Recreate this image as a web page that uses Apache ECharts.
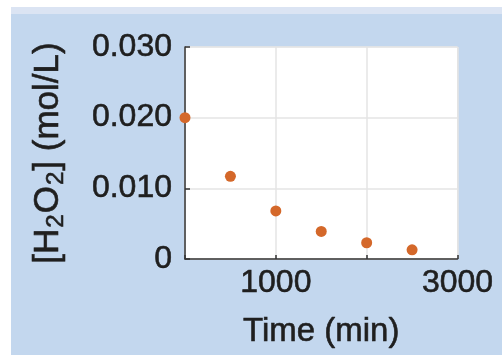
<!DOCTYPE html>
<html>
<head>
<meta charset="utf-8">
<script src="https://cdn.jsdelivr.net/npm/echarts@6/dist/echarts.min.js"></script>
<style>
html,body{margin:0;padding:0;background:#ffffff;}
#chart{width:502px;height:355px;}
</style>
</head>
<body>
<div id="chart"></div>
<script>
// Data
var timeMin = [0, 500, 1000, 1500, 2000, 2500];
var h2o2 = [0.0200, 0.0117, 0.0068, 0.0039, 0.0023, 0.0013];
var xShownLabels = [1000, 3000];
var yTickValues = [0, 0.010, 0.020, 0.030];
var xTitle = 'Time (min)';
var yTitle = '[H{sub|2}O{sub|2}] (mol/L)';

var points = timeMin.map(function (t, i) { return [t, h2o2[i]]; });

var chart = echarts.init(document.getElementById('chart'), null, {renderer: 'canvas'});
var textColor = '#1f1f1f';
var font = '"Liberation Sans", Arial, Helvetica, sans-serif';
var thick = {textBorderColor: '#1f1f1f', textBorderWidth: 0.6};

chart.setOption({
  animation: false,
  backgroundColor: 'transparent',
  graphic: [
    {type: 'rect', shape: {x: 11, y: 7, width: 491, height: 348}, style: {fill: '#c3d7ee'}, z: -10},
    {type: 'rect', shape: {x: 11, y: 7, width: 491, height: 7}, style: {fill: '#dbe4f3'}, z: -9}
  ],
  grid: {
    left: 185, top: 47, right: 44.5, bottom: 96,
    show: true, backgroundColor: '#ffffff', borderColor: '#e4e4e4', borderWidth: 1
  },
  xAxis: {
    type: 'value', min: 0, max: 3000, interval: 1000,
    name: xTitle, nameLocation: 'middle', nameGap: 56,
    nameTextStyle: Object.assign({color: textColor, fontSize: 33, fontFamily: font}, thick),
    axisLine: {show: true, onZero: false, lineStyle: {color: '#333333', width: 1.5}},
    axisTick: {show: true, inside: true, length: 4, lineStyle: {color: '#333333', width: 1.5}},
    axisLabel: Object.assign({
      color: textColor, fontSize: 32, fontFamily: font, margin: 8,
      formatter: function (v) { return xShownLabels.indexOf(v) >= 0 ? String(v) : ''; }
    }, thick),
    splitLine: {show: true, lineStyle: {color: '#e4e4e4', width: 1.5}}
  },
  yAxis: {
    type: 'value', min: 0, max: 0.030, interval: 0.010,
    name: yTitle, nameLocation: 'middle', nameRotate: 90, nameGap: 117,
    nameTextStyle: Object.assign({
      color: textColor, fontSize: 35, fontFamily: font,
      rich: {sub: Object.assign({fontSize: 24, color: textColor, fontFamily: font, verticalAlign: 'bottom', padding: [16, 1, 0, 1]}, thick)}
    }, thick),
    axisLine: {show: true, onZero: false, lineStyle: {color: '#333333', width: 1.5}},
    axisTick: {show: true, inside: true, length: 5, lineStyle: {color: '#333333', width: 1.5}},
    axisLabel: Object.assign({
      color: textColor, fontSize: 32, fontFamily: font, margin: 13,
      formatter: function (v) {
        for (var i = 0; i < yTickValues.length; i++) {
          if (Math.abs(v - yTickValues[i]) < 1e-9) return yTickValues[i] === 0 ? '0' : yTickValues[i].toFixed(3);
        }
        return '';
      }
    }, thick),
    splitLine: {show: true, lineStyle: {color: '#e4e4e4', width: 1.5}}
  },
  series: [{
    type: 'scatter',
    data: points,
    symbol: 'circle',
    symbolSize: 11,
    clip: false,
    itemStyle: {color: '#d4682a', opacity: 1},
    z: 5
  }]
});
</script>
</body>
</html>
